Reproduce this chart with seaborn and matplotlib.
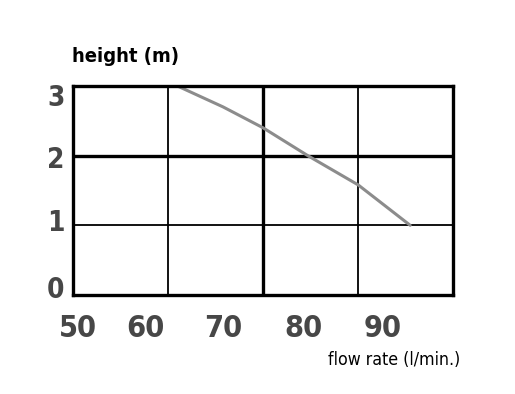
import matplotlib
matplotlib.use("Agg")
import matplotlib.pyplot as plt
import pandas as pd
import seaborn as sns

# pump curve
flow = [64.3, 70.0, 75.0, 80.6, 86.9, 93.4]
height = [3.0, 2.70, 2.40, 2.0, 1.58, 1.0]

x_tick_pos = [51.9, 60.3, 70.0, 80.0, 90.0]
x_tick_labels = ["50", "60", "70", "80", "90"]
y_tick_pos = [0.12, 1.07, 1.98, 2.87]
y_tick_labels = ["0", "1", "2", "3"]

df = pd.DataFrame({"flow": flow, "height": height})

sns.set_style("white")
plt.rcParams["font.family"] = ["DejaVu Sans"]
plt.rcParams["font.stretch"] = "condensed"

fig = plt.figure(figsize=(5.15, 3.94), dpi=100)
ax = fig.add_axes([0.1417, 0.2513, 0.7379, 0.5305])

sns.lineplot(data=df, x="flow", y="height", ax=ax, color="#8c8c8c", linewidth=2.2)

ax.set_xlim(51.25, 98.75)
ax.set_ylim(0, 3)

# grid: thin and thick lines
for xv, lw in [(63.125, 1.3), (75.0, 2.4), (86.875, 1.3)]:
    ax.axvline(xv, color="black", linewidth=lw, zorder=0)
for yv, lw in [(1, 1.3), (2, 2.4)]:
    ax.axhline(yv, color="black", linewidth=lw, zorder=0)

for s in ax.spines.values():
    s.set_visible(True)
    s.set_color("black")
    s.set_linewidth(2.4)

ax.set_xticks(x_tick_pos)
ax.set_xticklabels(x_tick_labels, fontsize=22, color="#474747", fontstretch="condensed",
                   fontweight="bold")
ax.set_yticks(y_tick_pos)
ax.set_yticklabels(y_tick_labels, fontsize=20, color="#474747", fontstretch="condensed",
                   fontweight="bold")
ax.tick_params(axis="x", length=0, pad=14)
ax.tick_params(axis="y", length=0, pad=6)
ax.set_xlabel("")
ax.set_ylabel("")

fig.text(0.140, 0.842, "height (m)", fontsize=14.5, fontweight="bold", color="black",
         fontstretch="condensed")
fig.text(0.637, 0.073, "flow rate (l/min.)", fontsize=12.7, color="black",
         fontstretch="condensed")

fig.savefig("out.png", dpi=100, facecolor="white")
